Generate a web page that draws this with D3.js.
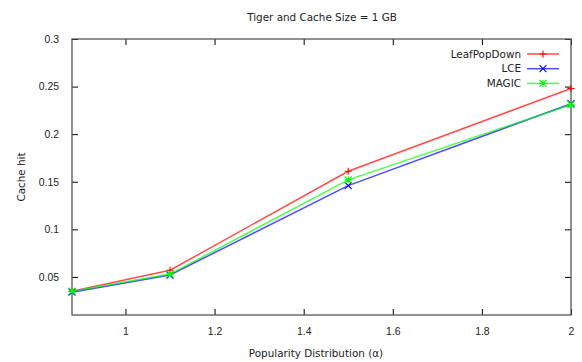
<!DOCTYPE html>
<html>
<head>
<meta charset="utf-8">
<script src="https://cdn.jsdelivr.net/npm/d3@7"></script>
<style>
  body { margin: 0; background: #fff; }
  svg { display: block; font-family: "DejaVu Sans", sans-serif; }
  text { fill: #222; }
</style>
</head>
<body>
<svg id="chart" width="582" height="362"></svg>
<script>
"use strict";

const alphas = [0.88, 1.1, 1.5, 2];
const leafPopDown = [0.035, 0.057, 0.161, 0.248];
const lce = [0.034, 0.052, 0.146, 0.232];
const magic = [0.035, 0.053, 0.152, 0.231];
const seriesNames = ["LeafPopDown", "LCE", "MAGIC"];
const xTicks = [1, 1.2, 1.4, 1.6, 1.8, 2];
const yTicks = [0.05, 0.1, 0.15, 0.2, 0.25, 0.3];

const series = [
  { name: seriesNames[0], values: leafPopDown, color: "#ff0000", marker: "plus" },
  { name: seriesNames[1], values: lce, color: "#0000ff", marker: "cross" },
  { name: seriesNames[2], values: magic, color: "#00ff00", marker: "star" },
];

const FS = 10.4;
const svg = d3.select("#chart");
const m = { left: 72, right: 11, top: 39, bottom: 47 };
const W = 582, H = 362;

const x = d3.scaleLinear([0.88, 2], [m.left, W - m.right]);
const y = d3.scaleLinear([0.01, 0.3], [H - m.bottom, m.top]);

/* title and axis labels */
svg.append("text")
  .attr("x", 322).attr("y", 21)
  .attr("text-anchor", "middle")
  .attr("font-size", FS)
  .text("Tiger and Cache Size = 1 GB");

svg.append("text")
  .attr("transform", `translate(25,${(m.top + H - m.bottom) / 2}) rotate(-90)`)
  .attr("text-anchor", "middle")
  .attr("font-size", FS)
  .text("Cache hit");

svg.append("text")
  .attr("x", 316).attr("y", 357)
  .attr("text-anchor", "middle")
  .attr("font-size", FS)
  .text("Popularity Distribution (α)");

/* axes with inward ticks, mirrored on top/right */
const tickStyle = (g) => {
  g.select(".domain").remove();
  g.selectAll(".tick line").attr("stroke", "#000");
  g.selectAll(".tick text").attr("font-size", FS).attr("fill", "#222");
};

svg.append("g")
  .attr("transform", `translate(0,${H - m.bottom})`)
  .call(d3.axisBottom(x).tickValues(xTicks).tickFormat(d3.format("")).tickSizeInner(-6).tickPadding(13))
  .call(tickStyle);

svg.append("g")
  .attr("transform", `translate(0,${m.top})`)
  .call(d3.axisTop(x).tickValues(xTicks).tickFormat("").tickSizeInner(-6))
  .call(tickStyle);

svg.append("g")
  .attr("transform", `translate(${m.left},0)`)
  .call(d3.axisLeft(y).tickValues(yTicks).tickFormat(d3.format("")).tickSizeInner(-6).tickPadding(13))
  .call(tickStyle);

svg.append("g")
  .attr("transform", `translate(${W - m.right},0)`)
  .call(d3.axisRight(y).tickValues(yTicks).tickFormat("").tickSizeInner(-6))
  .call(tickStyle);

svg.append("rect")
  .attr("x", m.left).attr("y", m.top)
  .attr("width", W - m.left - m.right)
  .attr("height", H - m.top - m.bottom)
  .attr("fill", "none")
  .attr("stroke", "#555")
  .attr("stroke-width", 1.3);

/* marker shapes, gnuplot style */
function markerPath(kind, s) {
  if (kind === "plus") return `M${-s},0H${s}M0,${-s}V${s}`;
  if (kind === "cross") return `M${-s},${-s}L${s},${s}M${-s},${s}L${s},${-s}`;
  return `M${-s},0H${s}M0,${-s}V${s}M${-s},${-s}L${s},${s}M${-s},${s}L${s},${-s}`;
}

const line = d3.line().x((d) => x(d[0])).y((d) => y(d[1]));

for (const s of series) {
  const pts = alphas.map((a, i) => [a, s.values[i]]);
  svg.append("path")
    .datum(pts)
    .attr("fill", "none")
    .attr("stroke", s.color)
    .attr("stroke-opacity", 0.7)
    .attr("stroke-width", 1.5)
    .attr("d", line);
  svg.append("g")
    .selectAll("path")
    .data(pts)
    .join("path")
    .attr("transform", (d) => `translate(${x(d[0])},${y(d[1])})`)
    .attr("d", markerPath(s.marker, 3.5))
    .attr("stroke", s.color)
    .attr("stroke-width", 1.1)
    .attr("fill", "none");
}

/* legend */
const legend = svg.append("g");
series.forEach((s, i) => {
  const ly = 54 + i * 14.7;
  legend.append("text")
    .attr("x", 521).attr("y", ly)
    .attr("dy", "0.35em")
    .attr("text-anchor", "end")
    .attr("font-size", FS)
    .text(s.name);
  legend.append("line")
    .attr("x1", 527).attr("x2", 559)
    .attr("y1", ly).attr("y2", ly)
    .attr("stroke", s.color)
    .attr("stroke-opacity", 0.7)
    .attr("stroke-width", 1.5);
  legend.append("path")
    .attr("transform", `translate(543,${ly})`)
    .attr("d", markerPath(s.marker, 3.5))
    .attr("stroke", s.color)
    .attr("stroke-width", 1.1)
    .attr("fill", "none");
});
</script>
</body>
</html>
